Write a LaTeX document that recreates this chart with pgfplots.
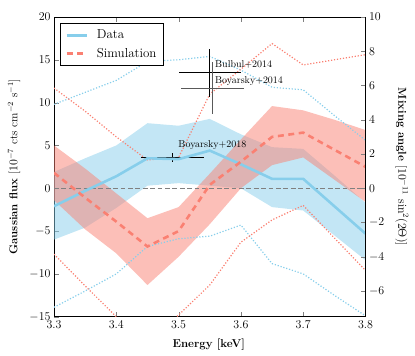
\documentclass[border=0pt]{standalone}
\usepackage{pgfplots}
\usepackage{pgfplotstable}
\pgfplotsset{compat=1.18}
\usepgfplotslibrary{fillbetween}

\definecolor{skyblue}{HTML}{87CEEB}
\definecolor{salmon}{HTML}{FA8072}

% E, data line, data band (lo/hi), data outer dotted (lo/hi), same for simulation
\pgfplotstableread{
E     dat   dlo   dhi   dlo3   dhi3  sim   slo    shi   slo3   shi3
3.30 -2.1  -6.0   1.9  -13.9   9.8   1.8  -1.4   5.0   -7.7  11.7
3.35 -0.3  -4.6   3.5  -12.0  11.2  -1.1  -4.8   2.3  -11.4   9.0
3.40  1.4  -2.3   5.0  -10.0  12.6  -3.9  -7.6  -0.6  -15.0   6.0
3.45  3.5   0.3   7.6   -6.8  14.8  -6.8 -11.3  -3.5  -18.0   3.3
3.50  3.4   0.6   7.3   -5.9  15.0  -5.0  -8.0  -2.2  -14.8   3.6
3.55  4.4   0.3   8.1   -5.6  15.4   0.4  -4.2   1.7  -11.3  11.0
3.60  2.8   0.0   6.3   -4.3  13.8   3.1   0.0   5.7   -6.3  13.9
3.65  1.1  -2.2   4.8   -8.8  11.8   6.0   2.7   9.6   -3.7  16.9
3.70  1.1  -2.6   4.6  -10.0  11.5   6.5   3.6   9.1   -2.0  14.4
3.75 -2.1  -5.5   1.5  -12.5   8.5   4.5   1.0   8.0   -5.8  15.0
3.80 -5.3  -8.4  -1.7  -14.9   5.6   2.5  -1.6   6.8   -9.6  15.6
}\tbl

\begin{document}
\begin{tikzpicture}
\begin{axis}[
  scale only axis, width=311.5bp, height=299.7bp,
  xmin=3.3, xmax=3.8, ymin=-15, ymax=20,
  xtick={3.3,3.4,...,3.8}, ytick={-15,-10,...,20},
  ytick pos=left, tick align=inside, major tick length=4.5bp,
  tick label style={font=\fontsize{11.5}{13}\selectfont},
  xticklabel style={yshift=-1bp, /pgf/number format/.cd, fixed, precision=1},
  axis line style={line width=0.8bp},
  xlabel={\textbf{Energy [keV]}},
  ylabel={\textbf{Gaussian flux} [$10^{-7}$ cts cm$^{-2}$ s$^{-1}$]},
  label style={font=\fontsize{11.5}{13}\selectfont},
  xlabel style={at={(axis description cs:0.497,-0.094)}, anchor=center},
  ylabel style={at={(axis description cs:-0.128,0.5)}, anchor=center},
  legend style={at={(0.0193,0.979)}, anchor=north west, draw=black,
    line width=0.6bp, font=\fontsize{13}{15}\selectfont,
    inner xsep=5bp, inner ysep=4.5bp, row sep=4bp, column sep=7bp},
  legend cell align=left,
  legend image code/.code={\draw[#1] (0bp,0bp) -- (20bp,0bp);},
]
% bands
\addplot[draw=none, forget plot, name path=dlo] table[x=E, y=dlo] {\tbl};
\addplot[draw=none, forget plot, name path=dhi] table[x=E, y=dhi] {\tbl};
\addplot[fill=skyblue, fill opacity=0.5, draw=none, forget plot] fill between[of=dlo and dhi];
\addplot[draw=none, forget plot, name path=slo] table[x=E, y=slo] {\tbl};
\addplot[draw=none, forget plot, name path=shi] table[x=E, y=shi] {\tbl};
\addplot[fill=salmon, fill opacity=0.5, draw=none, forget plot] fill between[of=slo and shi];
% zero line
\addplot[gray, line width=0.8bp, dash pattern=on 4.7bp off 2.7bp, forget plot] coordinates {(3.3,0) (3.8,0)};
% dotted outer contours
\addplot[skyblue, line width=1.2bp, dash pattern=on 1.2bp off 1.8bp, forget plot] table[x=E, y=dlo3] {\tbl};
\addplot[skyblue, line width=1.2bp, dash pattern=on 1.2bp off 1.8bp, forget plot] table[x=E, y=dhi3] {\tbl};
\addplot[salmon, line width=1.2bp, dash pattern=on 1.2bp off 1.8bp, forget plot] table[x=E, y=slo3] {\tbl};
\addplot[salmon, line width=1.2bp, dash pattern=on 1.2bp off 1.8bp, forget plot] table[x=E, y=shi3] {\tbl};
% literature points
\addplot[black, line width=0.8bp, mark=none, draw=none, forget plot,
  error bars/.cd, x dir=both, x explicit, y dir=both, y explicit, error mark=none,
  error bar style={line width=0.8bp, black}]
  coordinates {(3.55,13.5) +- (0.05,2.8) (3.49,3.6) +- (0.05,0.5)};
\addplot[black!70, mark=none, draw=none, forget plot,
  error bars/.cd, x dir=both, x explicit, y dir=both, y explicit, error mark=none,
  error bar style={line width=0.8bp, black!65}]
  coordinates {(3.5545,11.7) +- (0.05,3.05)};
% main curves
\addplot[skyblue, line width=2.6bp] table[x=E, y=dat] {\tbl};
\addlegendentry{Data}
\addplot[salmon, line width=2.6bp, dash pattern=on 6bp off 4.5bp] table[x=E, y=sim] {\tbl};
\addlegendentry{Simulation}
\node[anchor=west, inner sep=0pt, font=\fontsize{10}{12}\selectfont] at (axis cs:3.5584,14.4) {Bulbul+2014};
\node[anchor=west, inner sep=0pt, font=\fontsize{10}{12}\selectfont] at (axis cs:3.5584,12.55) {Boyarsky+2014};
\node[anchor=west, inner sep=0pt, font=\fontsize{10}{12}\selectfont] at (axis cs:3.4995,5.0) {Boyarsky+2018};
\end{axis}
\begin{axis}[
  scale only axis, width=311.5bp, height=299.7bp,
  xmin=3.3, xmax=3.8, ymin=-7.5, ymax=10,
  axis x line=none, axis y line*=right,
  ytick={-6,-4,...,10}, tick align=inside, major tick length=4.5bp,
  axis line style={line width=0.8bp, -},
  tick label style={font=\fontsize{11.5}{13}\selectfont},
  ylabel={\textbf{Mixing angle} [$10^{-11}\,\sin^2(2\Theta)$]},
  label style={font=\fontsize{11.5}{13}\selectfont},
  ylabel style={at={(axis description cs:1.117,0.5)}, anchor=center, rotate=180},
]
\addplot[draw=none] coordinates {(3.3,0)};
\end{axis}
\pgfresetboundingbox
\path[use as bounding box] (-54bp,-39.3bp) rectangle (361bp,316.7bp);
\end{tikzpicture}
\end{document}
